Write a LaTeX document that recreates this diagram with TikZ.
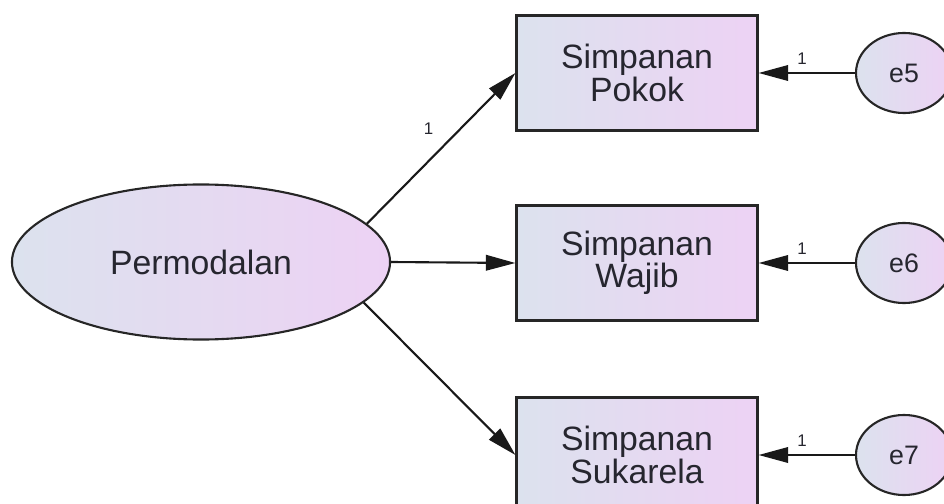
\documentclass[tikz,border=0pt]{standalone}
\usepackage{fontspec}
\setmainfont{Liberation Sans}
\usetikzlibrary{arrows.meta,shapes.geometric}
\definecolor{shadeleft}{HTML}{DCE2EE}
\definecolor{shaderight}{HTML}{EDD2F4}
\definecolor{txtgray}{HTML}{26262F}
\begin{document}
\begin{tikzpicture}[x=0.025cm, y=-0.025cm, line width=1.5pt,
    latent/.style={draw=black!85, ellipse, left color=shadeleft, right color=shaderight, text=txtgray},
    observed/.style={draw=black!85, rectangle, minimum width=6.025cm, minimum height=2.875cm,
        left color=shadeleft, right color=shaderight, text=txtgray, align=center,
        font=\fontsize{24}{23}\selectfont},
    path/.style={draw=black!90, -{Triangle[length=21pt,width=11pt]}},
    weight/.style={font=\fontsize{12}{12}\selectfont, text=txtgray, inner sep=2pt}]
    \clip (0,0) rectangle (944,504);
    \node[latent, minimum width=9.45cm, minimum height=3.875cm,
        font=\fontsize{24}{24}\selectfont] (perm) at (201,262) {Permodalan};
    \foreach \i/\name/\y in {5/Pokok/73,6/Wajib/263,7/Sukarela/455} {
        \node[observed] (ind\i) at (637,\y) {Simpanan\\\name};
        \node[latent, minimum width=2.4cm, minimum height=2cm,
            font=\fontsize{19}{19}\selectfont] (e\i) at (904,\y) {e\i};
        \draw[path] (e\i) -- (ind\i) node[weight, pos=0.55, above=3pt] {1};
    }
    \draw[path] (perm.13) -- (ind5.west) node[weight, pos=0.52, above left=5pt] {1};
    \draw[path] (perm.east) -- (ind6.west);
    \draw[path] (perm.-14) -- (ind7.west);
\end{tikzpicture}
\end{document}
